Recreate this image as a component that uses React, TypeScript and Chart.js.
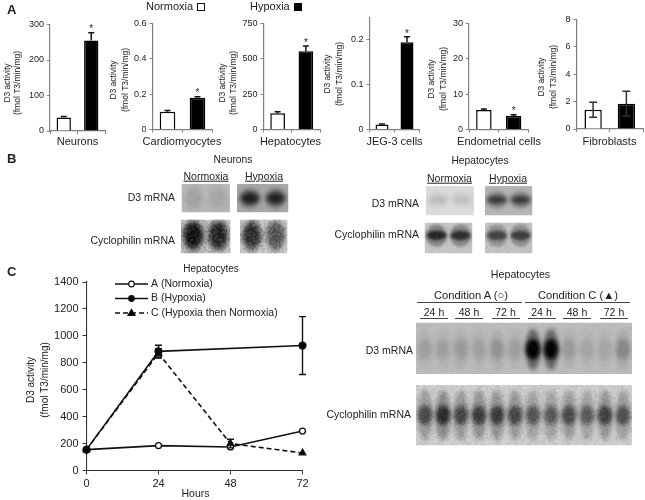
import React, { useEffect, useRef } from "react";
import { Chart, registerables } from "chart.js";

Chart.register(...registerables);

const conditions = ["Normoxia", "Hypoxia"];
const neuronValues = [38, 255];
const neuronErrors = [3, 22];
const cardioValues = [0.1, 0.18];
const cardioErrors = [0.008, 0.006];
const hepatoValues = [115, 553];
const hepatoErrors = [10, 38];
const jegValues = [0.011, 0.195];
const jegErrors = [0.001, 0.012];
const endoValues = [5.5, 3.8];
const endoErrors = [0.3, 0.4];
const fibroValues = [1.4, 1.85];
const fibroErrors = [0.55, 0.9];

const hours = [0, 24, 48, 72];
const seriesA = [155, 185, 175, 293];
const seriesB = [155, 885, null, 928];
const seriesC = [155, 870, 200, 130];
const errorsB = [0, 45, 0, 215];
const errorsC = [0, 35, 32, 0];

const neuronD3Normoxia = [0.08, 0.06];
const neuronD3Hypoxia = [0.75, 0.72];
const neuronCycNormoxia = [0.85, 0.75];
const neuronCycHypoxia = [0.68, 0.48];
const hepD3Normoxia = [0.1, 0.09];
const hepD3Hypoxia = [0.6, 0.6];
const hepCycNormoxia = [0.72, 0.68];
const hepCycHypoxia = [0.55, 0.58];
const timeD3 = [0.1, 0.1, 0.12, 0.1, 0.15, 0.1, 1, 0.98, 0.12, 0.08, 0.08, 0.2];
const timeCyc = [0.55, 0.72, 0.56, 0.62, 0.62, 0.56, 0.48, 0.46, 0.54, 0.46, 0.6, 0.5];

const AXIS_GREY = "#808080";
const INK = "#222222";
const FONT = "'Liberation Sans', Arial, sans-serif";
const W = 645;
const H = 500;

const errorPlugin = {
  id: "errorMarks",
  afterDatasetsDraw(chart: any) {
    const { ctx, scales } = chart;
    chart.data.datasets.forEach((ds: any, di: number) => {
      if (!ds.errors) return;
      const meta = chart.getDatasetMeta(di);
      ds.errors.forEach((e: number, i: number) => {
        if (!e) return;
        const el = meta.data[i];
        const raw = typeof ds.data[i] === "object" ? ds.data[i].y : ds.data[i];
        const px = el.x;
        const top = scales.y.getPixelForValue(raw + e);
        const low = ds.errorBoth ? scales.y.getPixelForValue(raw - e) : scales.y.getPixelForValue(raw);
        ctx.save();
        ctx.strokeStyle = ds.errorColor || "#111";
        ctx.lineWidth = ds.errorWidth || 1.5;
        ctx.beginPath();
        ctx.moveTo(px, top);
        ctx.lineTo(px, low);
        const c = ds.errorCap || 3;
        ctx.moveTo(px - c, top);
        ctx.lineTo(px + c, top);
        if (ds.errorBoth) {
          ctx.moveTo(px - c, low);
          ctx.lineTo(px + c, low);
        }
        ctx.stroke();
        ctx.restore();
      });
      if (ds.stars) {
        ds.stars.forEach((s: boolean, i: number) => {
          if (!s) return;
          const el = meta.data[i];
          const y = scales.y.getPixelForValue(ds.data[i] + ds.errors[i]);
          ctx.save();
          ctx.fillStyle = INK;
          ctx.font = `10px ${FONT}`;
          ctx.textAlign = "center";
          ctx.textBaseline = "middle";
          ctx.fillText("*", el.x, y - 3);
          ctx.restore();
        });
      }
    });
  },
};

const panelTextPlugin = {
  id: "panelText",
  afterDraw(chart: any) {
    const o = chart.options.plugins.panelText;
    if (!o) return;
    const { ctx } = chart;
    (o.rotated || []).forEach((t: any) => {
      ctx.save();
      ctx.translate(t.x, t.y);
      ctx.rotate(-Math.PI / 2);
      ctx.font = `${t.size}px ${FONT}`;
      ctx.fillStyle = INK;
      ctx.textAlign = "center";
      ctx.textBaseline = "middle";
      ctx.fillText(t.text, 0, 0);
      ctx.restore();
    });
    (o.flat || []).forEach((t: any) => {
      ctx.save();
      ctx.font = `${t.size}px ${FONT}`;
      ctx.fillStyle = INK;
      ctx.textAlign = t.align || "center";
      ctx.textBaseline = "middle";
      ctx.fillText(t.text, t.x, t.y);
      ctx.restore();
    });
  },
};

const legendPlugin = {
  id: "lineLegend",
  afterDraw(chart: any) {
    const o = chart.options.plugins.lineLegend;
    if (!o) return;
    const { ctx } = chart;
    o.items.forEach((it: any, i: number) => {
      const y = o.y + i * o.gap;
      ctx.save();
      ctx.strokeStyle = "#111";
      ctx.lineWidth = 1.5;
      ctx.setLineDash(it.dash || []);
      ctx.beginPath();
      ctx.moveTo(o.x0, y);
      ctx.lineTo(o.x1, y);
      ctx.stroke();
      ctx.setLineDash([]);
      const mx = (o.x0 + o.x1) / 2;
      ctx.fillStyle = it.fill;
      ctx.lineWidth = 1.2;
      ctx.beginPath();
      if (it.kind === "triangle") {
        ctx.moveTo(mx, y - 3.5);
        ctx.lineTo(mx + 3.5, y + 2.5);
        ctx.lineTo(mx - 3.5, y + 2.5);
        ctx.closePath();
      } else {
        ctx.arc(mx, y, 2.8, 0, Math.PI * 2);
      }
      ctx.fill();
      ctx.stroke();
      ctx.fillStyle = INK;
      ctx.font = `10.5px ${FONT}`;
      ctx.textBaseline = "middle";
      ctx.fillText(it.text, o.x1 + 3, y);
      ctx.restore();
    });
  },
};

const texture = (i: number, j: number) => {
  const s = Math.sin(i * 12.9898 + j * 78.233) * 43758.5453;
  return s - Math.floor(s);
};

const blotPlugin = {
  id: "blot",
  beforeDatasetsDraw(chart: any) {
    const o = chart.options.plugins.blot;
    if (!o) return;
    const { ctx, chartArea: a, scales } = chart;
    ctx.save();
    ctx.beginPath();
    ctx.rect(a.left, a.top, a.width, a.height);
    ctx.clip();
    ctx.fillStyle = o.bg;
    ctx.fillRect(a.left, a.top, a.width, a.height);
    const ds = chart.data.datasets[0];
    const step = scales.x.getPixelForValue(1) - scales.x.getPixelForValue(0);
    ctx.filter = `blur(${o.blur}px)`;
    ds.data.forEach((p: any) => {
      const x = scales.x.getPixelForValue(p.x);
      const y = scales.y.getPixelForValue(p.y);
      const rx = step * o.rx;
      const ry = a.height * o.ry;
      ctx.fillStyle = `rgba(0,0,0,${Math.min(1, p.v * 0.45)})`;
      ctx.beginPath();
      ctx.ellipse(x, y, rx * 1.05, ry * o.halo, 0, 0, Math.PI * 2);
      ctx.fill();
      ctx.fillStyle = `rgba(0,0,0,${p.v})`;
      ctx.beginPath();
      ctx.ellipse(x, y, rx, ry, 0, 0, Math.PI * 2);
      ctx.fill();
    });
    ctx.filter = "none";
    if (o.grain) {
      for (let i = a.left; i < a.right; i += 1.5) {
        for (let j = a.top; j < a.bottom; j += 1.5) {
          const t = texture(Math.round(i * 2), Math.round(j * 2));
          ctx.fillStyle = t > 0.5 ? `rgba(255,255,255,${(t - 0.5) * o.grain})` : `rgba(0,0,0,${(0.5 - t) * o.grain})`;
          ctx.fillRect(i, j, 1.5, 1.5);
        }
      }
    }
    ctx.restore();
  },
};

const padFor = (left: number, top: number, right: number, bottom: number, sw: number, sh: number) => ({
  left: left - sw,
  top,
  right: W - right,
  bottom: H - bottom - sh,
});

function barConfig(p: any) {
  const SW = 30;
  const SH = 12;
  return {
    type: "bar",
    data: {
      labels: conditions,
      datasets: [
        {
          data: p.values,
          errors: p.errors,
          stars: p.stars,
          errorBoth: p.both,
          errorColor: p.errorColor,
          errorCap: p.cap,
          errorWidth: p.errorWidth,
          backgroundColor: ["#ffffff", "#000000"],
          borderColor: "#000000",
          borderWidth: 1.5,
          barPercentage: 0.52,
          categoryPercentage: 1,
        },
      ],
    },
    options: {
      responsive: false,
      animation: false,
      events: [],
      layout: { autoPadding: false, padding: padFor(p.left, p.top, p.right, p.bottom, SW, SH) },
      plugins: {
        legend: { display: false },
        tooltip: { enabled: false },
        panelText: {
          rotated: [
            { text: "D3 activity", x: p.tx[0], y: p.ty, size: 8.5 },
            { text: "(fmol T3/min/mg)", x: p.tx[1], y: p.ty, size: 8.5 },
          ],
          flat: [{ text: p.name, x: p.nameX, y: 141.5, size: 11 }],
        },
      },
      scales: {
        x: {
          afterFit: (s: any) => { s.height = SH; },
          border: { color: AXIS_GREY, width: 1.2 },
          grid: { offset: true, drawOnChartArea: false, tickLength: 3, color: AXIS_GREY },
          ticks: { display: false },
        },
        y: {
          min: 0,
          max: p.max,
          afterFit: (s: any) => { s.width = SW; },
          border: { color: AXIS_GREY, width: 1.2 },
          grid: { drawOnChartArea: false, tickLength: 3, color: AXIS_GREY },
          ticks: { stepSize: p.step, includeBounds: false, font: { family: FONT, size: 9 }, color: INK, padding: 3 },
        },
      },
    },
    plugins: [errorPlugin, panelTextPlugin],
  };
}

function lineConfig() {
  const SW = 40;
  const SH = 26;
  const toXY = (ys: (number | null)[]) => hours.map((h, i) => ({ x: h, y: ys[i] }));
  const common = { borderColor: "#111", borderWidth: 1.6, clip: false, spanGaps: true, pointBorderColor: "#111", pointBorderWidth: 1.3 };
  return {
    type: "line",
    data: {
      datasets: [
        { ...common, data: toXY(seriesA), order: 2, pointRadius: 3, pointBackgroundColor: "#fff" },
        { ...common, data: toXY(seriesB), order: 1, pointRadius: 3.5, pointBackgroundColor: "#000", errors: errorsB, errorBoth: true, errorCap: 3.5, errorWidth: 1.4 },
        { ...common, data: toXY(seriesC), order: 0, pointRadius: 3.8, pointStyle: "triangle", pointBackgroundColor: "#000", borderDash: [5, 3], errors: errorsC, errorBoth: true, errorCap: 3.5, errorWidth: 1.4 },
      ],
    },
    options: {
      responsive: false,
      animation: false,
      events: [],
      layout: { autoPadding: false, padding: padFor(86.5, 282, 302.5, 470.5, SW, SH) },
      plugins: {
        legend: { display: false },
        tooltip: { enabled: false },
        lineLegend: {
          x0: 115,
          x1: 148,
          y: 284,
          gap: 14.5,
          items: [
            { text: "A (Normoxia)", fill: "#fff", kind: "circle" },
            { text: "B (Hypoxia)", fill: "#000", kind: "circle" },
            { text: "C (Hypoxia then Normoxia)", fill: "#000", kind: "triangle", dash: [5, 3] },
          ],
        },
        panelText: {
          rotated: [
            { text: "D3 activity", x: 31.5, y: 380, size: 10 },
            { text: "(fmol T3/min/mg)", x: 45, y: 380, size: 10 },
          ],
          flat: [{ text: "Hours", x: 195.5, y: 494, size: 10.5 }],
        },
      },
      scales: {
        x: {
          type: "linear",
          min: 0,
          max: 72,
          afterFit: (s: any) => { s.height = SH; },
          border: { color: "#333", width: 1.1 },
          grid: { drawOnChartArea: false, tickLength: 4, color: "#333" },
          ticks: { stepSize: 24, font: { family: FONT, size: 11 }, color: INK, padding: 3, maxRotation: 0 },
        },
        y: {
          min: 0,
          max: 1400,
          afterFit: (s: any) => { s.width = SW; },
          border: { color: "#333", width: 1.1 },
          grid: { drawOnChartArea: false, tickLength: 4, color: "#333" },
          ticks: { stepSize: 200, font: { family: FONT, size: 11 }, color: INK, padding: 4, callback: (v: any) => String(v) },
        },
      },
    },
    plugins: [errorPlugin, panelTextPlugin, legendPlugin],
  };
}

function blotConfig(v: number[], b: any) {
  return {
    type: "scatter",
    data: {
      datasets: [{ data: v.map((val, i) => ({ x: i + 0.5, y: b.cy, v: val })), pointRadius: 0, showLine: false }],
    },
    options: {
      responsive: false,
      animation: false,
      events: [],
      layout: { autoPadding: false, padding: { left: b.l, top: b.t, right: W - b.r, bottom: H - b.b } },
      plugins: { legend: { display: false }, tooltip: { enabled: false }, blot: b },
      scales: {
        x: { display: false, min: 0, max: v.length },
        y: { display: false, min: 0, max: 1, reverse: true },
      },
    },
    plugins: [blotPlugin],
  };
}

const barPanels = [
  { name: "Neurons", nameX: 77.5, values: neuronValues, errors: neuronErrors, stars: [false, true], left: 50, right: 105, top: 24.5, bottom: 131, max: 300, step: 100, tx: [7.5, 18], ty: 83 },
  { name: "Cardiomyocytes", nameX: 182, values: cardioValues, errors: cardioErrors, stars: [false, true], left: 152.5, right: 212.5, top: 23.5, bottom: 129.5, max: 0.6, step: 0.2, tx: [114, 126], ty: 80 },
  { name: "Hepatocytes", nameX: 290.5, values: hepatoValues, errors: hepatoErrors, stars: [false, true], left: 263.5, right: 320, top: 23.5, bottom: 129.5, max: 750, step: 250, tx: [222.5, 234], ty: 83 },
  { name: "JEG-3 cells", nameX: 394.5, values: jegValues, errors: jegErrors, stars: [false, true], left: 369.5, right: 419.5, top: 17.5, bottom: 129.5, max: 0.25, step: 0.1, tx: [327.5, 340], ty: 74 },
  { name: "Endometrial cells", nameX: 499, values: endoValues, errors: endoErrors, stars: [false, true], left: 469, right: 528.5, top: 23.5, bottom: 129.5, max: 30, step: 10, tx: [431.5, 444], ty: 79 },
  { name: "Fibroblasts", nameX: 609.5, values: fibroValues, errors: fibroErrors, stars: [false, false], both: true, errorColor: "#333", cap: 4, errorWidth: 1.5, left: 576.5, right: 643, top: 19.5, bottom: 129, max: 8, step: 2, tx: [542, 554], ty: 77 },
];

const d3Style = { cy: 0.5, rx: 0.36, ry: 0.2, halo: 1.7, blur: 2.5, grain: 0.06 };
const cycStyle = { cy: 0.47, rx: 0.38, ry: 0.38, halo: 1.25, blur: 2.5, grain: 0.34 };
const hepCyc = { cy: 0.42, rx: 0.42, ry: 0.15, halo: 2.4, blur: 1.8, grain: 0.1 };
const hepD3 = { cy: 0.47, rx: 0.42, ry: 0.13, halo: 2.2, blur: 2, grain: 0.04 };

const blots: [number[], any][] = [
  [neuronD3Normoxia, { ...d3Style, bg: "#b9b9b9", ry: 0.32, l: 181.5, r: 230, t: 184, b: 212.5 }],
  [neuronD3Hypoxia, { ...d3Style, bg: "#a8a8a8", l: 237, r: 288.5, t: 184, b: 212.5 }],
  [neuronCycNormoxia, { ...cycStyle, bg: "#c4c4c4", l: 181, r: 230.5, t: 219.5, b: 253.5 }],
  [neuronCycHypoxia, { ...cycStyle, bg: "#cacaca", l: 240, r: 287.5, t: 219.5, b: 253.5 }],
  [hepD3Normoxia, { ...hepD3, bg: "#dcdcdc", l: 426, r: 474, t: 186, b: 215.5 }],
  [hepD3Hypoxia, { ...hepD3, bg: "#b6b6b6", l: 485, r: 532.5, t: 186, b: 215.5 }],
  [hepCycNormoxia, { ...hepCyc, bg: "#c8c8c8", l: 424.5, r: 472.5, t: 222.5, b: 253.5 }],
  [hepCycHypoxia, { ...hepCyc, bg: "#c4c4c4", l: 485, r: 532.5, t: 222.5, b: 253.5 }],
  [timeD3, { cy: 0.52, rx: 0.4, ry: 0.2, halo: 2, blur: 2.2, grain: 0.06, bg: "#bcbcbc", l: 416, r: 632, t: 322.5, b: 374 }],
  [timeCyc, { cy: 0.5, rx: 0.4, ry: 0.16, halo: 2.6, blur: 2, grain: 0.18, bg: "#cfcfcf", l: 416, r: 632, t: 385, b: 445.5 }],
];

const configs: any[] = [
  ...barPanels.map(barConfig),
  lineConfig(),
  ...blots.map(([v, b]) => blotConfig(v, b)),
];

type Lab = { t: string; x: number; y: number; a?: "l" | "c" | "r"; s?: number; b?: boolean; u?: boolean };
const labels: Lab[] = [
  { t: "A", x: 7, y: 10, a: "l", s: 13, b: true },
  { t: "B", x: 7, y: 159, a: "l", s: 13, b: true },
  { t: "C", x: 7, y: 272, a: "l", s: 13, b: true },
  { t: "Normoxia", x: 146, y: 7, a: "l", s: 11 },
  { t: "Hypoxia", x: 250, y: 7, a: "l", s: 11 },
  { t: "Neurons", x: 233, y: 160, s: 10.3 },
  { t: "Normoxia", x: 206, y: 175.5, s: 10.5, u: true },
  { t: "Hypoxia", x: 264, y: 175.5, s: 10.5, u: true },
  { t: "D3 mRNA", x: 175, y: 196.5, a: "r", s: 10.5 },
  { t: "Cyclophilin mRNA", x: 175, y: 239.5, a: "r", s: 10.5 },
  { t: "Hepatocytes", x: 480, y: 161, s: 10.3 },
  { t: "Normoxia", x: 449.5, y: 178, s: 10.5, u: true },
  { t: "Hypoxia", x: 508, y: 178, s: 10.5, u: true },
  { t: "D3 mRNA", x: 419, y: 202.5, a: "r", s: 10.5 },
  { t: "Cyclophilin mRNA", x: 419, y: 234, a: "r", s: 10.5 },
  { t: "Hepatocytes", x: 211, y: 268.5, s: 10 },
  { t: "Hepatocytes", x: 520.5, y: 274, s: 10.7 },
  { t: "Condition A (○)", x: 471, y: 295.5, s: 11.2 },
  { t: "Condition C (▲)", x: 578, y: 295.5, s: 11.2 },
  { t: "D3 mRNA", x: 413, y: 350, a: "r", s: 10.5 },
  { t: "Cyclophilin mRNA", x: 411, y: 414, a: "r", s: 10.5 },
];
const laneHours = ["24 h", "48 h", "72 h", "24 h", "48 h", "72 h"];
const laneHourX = [434, 469, 505.5, 541.5, 577, 614];

const Label = ({ l }: { l: Lab }) => {
  const tx = l.a === "l" ? "0" : l.a === "r" ? "-100%" : "-50%";
  return (
    <div
      style={{
        position: "absolute",
        left: l.x,
        top: l.y,
        transform: `translate(${tx}, -50%)`,
        font: `${l.b ? "bold " : ""}${l.s || 10}px/1.2 ${FONT}`,
        color: INK,
        whiteSpace: "nowrap",
        textDecoration: l.u ? "underline" : "none",
      }}
    >
      {l.t}
    </div>
  );
};

const Rule = ({ x, y, w, h = 1 }: { x: number; y: number; w: number; h?: number }) => (
  <div style={{ position: "absolute", left: x, top: y, width: w, height: h, background: "#444" }} />
);

export default function App() {
  const refs = useRef<(HTMLCanvasElement | null)[]>([]);
  useEffect(() => {
    const charts = configs.map((c, i) => new Chart(refs.current[i] as HTMLCanvasElement, c));
    return () => charts.forEach((c) => c.destroy());
  }, []);
  return (
    <div style={{ position: "absolute", left: 0, top: 0, width: W, height: H, overflow: "hidden", background: "#fff" }}>
      {configs.map((_, i) => (
        <canvas
          key={i}
          ref={(el) => { refs.current[i] = el; }}
          width={W}
          height={H}
          style={{ position: "absolute", left: 0, top: 0, width: W, height: H }}
        />
      ))}
      {labels.map((l, i) => <Label key={i} l={l} />)}
      {laneHours.map((t, i) => <Label key={i} l={{ t, x: laneHourX[i], y: 312, s: 10.5 }} />)}
      {laneHourX.map((x, i) => <Rule key={i} x={x - 14} y={317.5} w={28} />)}
      <Rule x={416.5} y={301.5} w={105} />
      <Rule x={525} y={301.5} w={105} />
      <div style={{ position: "absolute", left: 197, top: 3, width: 6, height: 6, border: "1px solid #111", background: "#fff" }} />
      <div style={{ position: "absolute", left: 294, top: 3, width: 8, height: 8, background: "#000" }} />
    </div>
  );
}
